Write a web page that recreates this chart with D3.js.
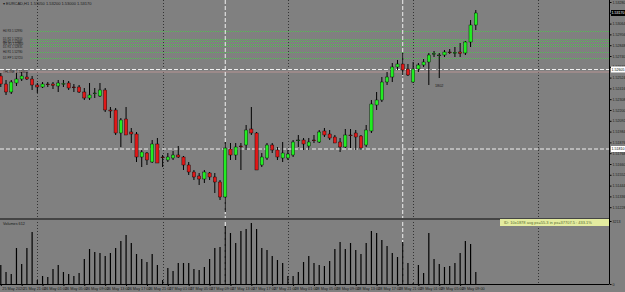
<!DOCTYPE html>
<html>
<head>
<meta charset="utf-8">
<script src="https://cdn.jsdelivr.net/npm/d3@7"></script>
<style>
  body { margin: 0; background: #808080; }
  svg { display: block; font-family: "Liberation Sans", Arial, sans-serif; }
</style>
</head>
<body>
<svg id="chart" width="625" height="292"></svg>
<script>
// EURCAD H1, one bar per hour, bar 0 = 25 May 2020 17:00
const opens  = [1.5254,1.5246,1.5238,1.5247,1.5251,1.5253,1.5251,1.5245,1.5243,1.5246,1.5246,1.5244,1.5246,1.5247,1.5243,1.5243,1.5238,1.5232,1.52365,1.5234,
                1.5240,1.5220,1.5220,1.5197,1.5211,1.5198,1.5196,1.5173,1.5177,1.5168,1.5186,1.5173,1.5170,1.5172,1.5175,1.5173,1.5165,1.5158,1.5154,1.5151,
                1.5157,1.5153,1.5148,1.5133,1.5181,1.5175,1.5184,1.5185,1.5201,1.5197,1.5165,1.5172,1.5185,1.5180,1.5172,1.5172,1.5175,1.51895,1.5190,1.5184,
                1.5190,1.5188,1.5199,1.5196,1.5193,1.5188,1.5183,1.5195,1.5197,1.5194,1.5185,1.5199,1.5225,1.5230,1.5248,1.5253,1.5263,1.5266,1.5261,1.5248,
                1.5261,1.5265,1.5268,1.5276,1.52745,1.5275,1.5278,1.5277,1.5278,1.5277,1.5288,1.5305];
const highs  = [1.5257,1.5250,1.5250,1.5257,1.5258,1.5258,1.5254,1.5247,1.5248,1.5248,1.5248,1.5250,1.5250,1.5249,1.5246,1.5245,1.5242,1.5247,1.5242,1.5247,
                1.5242,1.5223,1.5222,1.5212,1.5223,1.5202,1.5198,1.5180,1.5178,1.5190,1.5192,1.5175,1.5177,1.5179,1.5184,1.5174,1.5168,1.5160,1.5157,1.5160,
                1.5158,1.5157,1.5150,1.5188,1.5187,1.5187,1.5187,1.5205,1.5223,1.5198,1.5177,1.5187,1.5187,1.5183,1.5188,1.5180,1.5190,1.5195,1.5192,1.5192,
                1.5195,1.5200,1.5202,1.5200,1.5195,1.5192,1.5201,1.5201,1.5200,1.5195,1.5205,1.5230,1.5238,1.5253,1.5258,1.5267,1.5270,1.5277,1.5266,1.5268,
                1.5267,1.5271,1.5277,1.5279,1.5277,1.5280,1.5281,1.5283,1.5287,1.5289,1.5310,1.5320];
const lows   = [1.5243,1.5235,1.5236,1.5244,1.5249,1.5250,1.5240,1.5237,1.5242,1.5243,1.5241,1.5238,1.5243,1.5240,1.5238,1.5237,1.5230,1.5230,1.5232,1.5233,
                1.5218,1.5212,1.5195,1.5183,1.5195,1.5187,1.5168,1.5163,1.5165,1.5167,1.5167,1.5163,1.5168,1.5170,1.5172,1.5160,1.5155,1.5150,1.5145,1.5147,
                1.5150,1.5137,1.5130,1.5118,1.5170,1.5170,1.5160,1.5180,1.5195,1.5160,1.5163,1.5170,1.5177,1.5170,1.5168,1.5170,1.5173,1.5183,1.5180,1.5180,
                1.5187,1.5187,1.5193,1.5190,1.5187,1.5178,1.5182,1.5182,1.5180,1.5180,1.5183,1.5197,1.5220,1.5228,1.5245,1.5248,1.5260,1.5255,1.5254,1.5247,
                1.5258,1.5263,1.5245,1.5273,1.5252,1.5273,1.5276,1.5273,1.5273,1.5275,1.5283,1.5300];
const closes = [1.5246,1.5238,1.5248,1.5251,1.5254,1.5251,1.5245,1.5243,1.5246,1.52455,1.52445,1.5247,1.52465,1.5242,1.52425,1.5238,1.5232,1.5235,1.5237,1.5240,
                1.5220,1.5219,1.5197,1.5210,1.5195,1.5196,1.5173,1.5178,1.5170,1.5186,1.5167,1.51725,1.5173,1.5175,1.5173,1.5165,1.5158,1.5153,1.5151,1.5158,
                1.5153,1.5148,1.5133,1.5182,1.5175,1.5183,1.51835,1.5200,1.5197,1.5160,1.5173,1.5185,1.5180,1.5173,1.5177,1.5176,1.5188,1.5190,1.5186,1.5188,
                1.51895,1.5198,1.5195,1.5192,1.5187,1.5183,1.5195,1.51945,1.5193,1.5182,1.5200,1.5226,1.5230,1.5248,1.5253,1.5263,1.5266,1.5260,1.5255,1.5261,
                1.5265,1.5268,1.5275,1.52765,1.5275,1.5278,1.52775,1.52775,1.52765,1.5288,1.5305,1.5317];
const volumes = [969,612,510,1836,1020,1836,2652,204,408,357,765,969,612,510,408,561,1275,1785,1632,1581,
                 1428,1581,1836,2193,2499,2091,1530,1275,1122,1530,969,204,816,663,1071,1071,1071,765,714,867,
                 1275,1836,1887,2958,2601,2091,2703,2805,3111,2805,1836,1734,1428,1224,1071,408,408,612,1122,1428,
                 1071,969,918,1173,1785,2142,1785,2091,1734,1530,2091,2703,2601,2244,1938,1581,1377,2142,1071,51,
                 969,561,2601,1275,1020,867,918,1071,1581,2193,2040,612];

const timeTickBars = [0,4,8,12,16,20,24,28,32,36,40,44,48,52,56,60,64,68,72,76,80,84,88];
const timeLabels = ["25 May 2020","25 May 21:00","26 May 01:00","26 May 05:00","26 May 09:00","26 May 13:00",
                    "26 May 17:00","26 May 21:00","27 May 01:00","27 May 05:00","27 May 09:00","27 May 13:00",
                    "27 May 17:00","27 May 21:00","28 May 01:00","28 May 05:00","28 May 09:00","28 May 13:00",
                    "28 May 17:00","28 May 21:00","29 May 01:00","29 May 05:00","29 May 09:00"];
const priceTicks = [1.53280,1.53172,1.53064,1.52956,1.52848,1.52740,1.52632,1.52524,1.52416,1.52308,
                    1.52200,1.52092,1.51984,1.51876,1.51768,1.51660,1.51552,1.51444,1.51336,1.51228];
const volumeTicks = [3213, 0];
const daySeparators = [7, 31, 55, 79, 103];
const markerLines = [43, 77];               // white dashed vertical lines (bar position)
const hLines = [1.52605, 1.51810];          // white dashed horizontal lines
const pinkLine = 1.52590;
const levelPrices = [1.5299, 1.5291, 1.52885, 1.5286, 1.52835, 1.5278, 1.5272];
const levelNames = ["H4 R3 1.52990","D1 R2 1.52910","H4 R2 1.52885","W1 R1 1.52860",
                    "D1 R1 1.52835","H4 R1 1.52780","D1 PP 1.52720"];

const W = 625, H = 292;
const plotRight = 609;
const mainTop = 0, mainBottom = 218;
const volTop = 221, volBottom = 284;

const svg = d3.select("#chart");
svg.append("rect").attr("width", W).attr("height", H).attr("fill", "#808080");

const x = d3.scaleLinear().domain([0, 91]).range([0.8, 475.8]);
const y = d3.scaleLinear().domain([1.5112, 1.5330]).range([mainBottom, mainTop]);
const yv = d3.scaleLinear().domain([0, 3213]).range([volBottom, volTop]);

const bars = opens.map((o, i) => ({i, o, h: highs[i], l: lows[i], c: closes[i], v: volumes[i]}));

// green pivot levels
const lv = svg.append("g");
lv.selectAll("line").data(levelPrices).join("line")
    .attr("x1", 30).attr("x2", plotRight)
    .attr("y1", d => Math.round(y(d)) + 0.5).attr("y2", d => Math.round(y(d)) + 0.5)
    .attr("stroke", "#3fd83f").attr("stroke-width", 1).attr("stroke-dasharray", "1,1")
    .attr("opacity", 0.7);
lv.selectAll("text").data(levelPrices).join("text")
    .attr("x", 3).attr("y", d => y(d) + 1)
    .attr("font-size", 2.9).attr("fill", "#1a1a1a")
    .text((d, k) => levelNames[k]);

// day separators
svg.append("g").selectAll("line").data(daySeparators).join("line")
    .attr("x1", d => Math.round(x(d)) + 0.5).attr("x2", d => Math.round(x(d)) + 0.5)
    .attr("y1", 0).attr("y2", volBottom)
    .attr("stroke", "#333").attr("stroke-width", 1).attr("stroke-dasharray", "1,2");

// horizontal lines
svg.append("line").attr("x1", 0).attr("x2", plotRight)
    .attr("y1", y(pinkLine) + 1).attr("y2", y(pinkLine) + 1)
    .attr("stroke", "#c79a9a").attr("stroke-width", 0.8);
svg.append("g").selectAll("line").data(hLines).join("line")
    .attr("x1", 0).attr("x2", plotRight)
    .attr("y1", d => y(d)).attr("y2", d => y(d))
    .attr("stroke", "#f0f0f0").attr("stroke-width", 1).attr("stroke-dasharray", "4,2");
svg.append("text").attr("x", 3).attr("y", y(hLines[0]) + 3.5)
    .attr("font-size", 3.4).attr("fill", "#1a1a1a").text("#HLINE 1.52605");

// white dashed vertical markers
svg.append("g").selectAll("line").data(markerLines).join("line")
    .attr("x1", d => x(d)).attr("x2", d => x(d))
    .attr("y1", 0).attr("y2", volBottom)
    .attr("stroke", "#f0f0f0").attr("stroke-width", 1).attr("stroke-dasharray", "4,2");

// candles
const cg = svg.append("g");
cg.selectAll("line.wick").data(bars).join("line")
    .attr("class", "wick")
    .attr("x1", d => x(d.i)).attr("x2", d => x(d.i))
    .attr("y1", d => y(d.h)).attr("y2", d => y(d.l))
    .attr("stroke", "#000").attr("stroke-width", 1);
cg.selectAll("rect").data(bars).join("rect")
    .attr("x", d => x(d.i) - 1.6).attr("width", 3.2)
    .attr("y", d => y(Math.max(d.o, d.c)))
    .attr("height", d => Math.max(0.8, Math.abs(y(d.o) - y(d.c))))
    .attr("fill", d => d.c > d.o ? "#22ee22" : d.c < d.o ? "#e01818" : "#000")
    .attr("stroke", "#000").attr("stroke-width", 0.4);

svg.append("text").attr("x", 435).attr("y", 87).attr("font-size", 3.8).attr("fill", "#1a1a1a").text("1802");

// pane separator
svg.append("rect").attr("x", 0).attr("y", mainBottom).attr("width", plotRight).attr("height", 2).attr("fill", "#444");

// volumes
svg.append("g").selectAll("line").data(bars).join("line")
    .attr("x1", d => x(d.i)).attr("x2", d => x(d.i))
    .attr("y1", volBottom).attr("y2", d => yv(d.v))
    .attr("stroke", "#000").attr("stroke-width", 1.2);
svg.append("text").attr("x", 3).attr("y", 225).attr("font-size", 3.8).attr("fill", "#1a1a1a").text("Volumes 612");

// info box
svg.append("rect").attr("x", 500).attr("y", 219).attr("width", 110).attr("height", 7).attr("fill", "#e4eca0");
svg.append("text").attr("x", 504).attr("y", 224.2).attr("font-size", 4).attr("fill", "#556b2f")
    .text("ID: 10x1878  avg px=55.3  in px=37707.5 : 433.1%");

// right axis
svg.append("line").attr("x1", plotRight + 0.5).attr("x2", plotRight + 0.5).attr("y1", 0).attr("y2", volBottom)
    .attr("stroke", "#000");
const ax = svg.append("g").attr("transform", `translate(${plotRight + 0.5},0)`)
    .call(d3.axisRight(y).tickValues(priceTicks).tickFormat(d3.format(".5f")).tickSize(2).tickSizeOuter(0));
ax.select(".domain").remove();
ax.selectAll("text").attr("font-size", 3.6).attr("fill", "#1a1a1a").attr("x", 3);
ax.selectAll("line").attr("stroke", "#000");

const vax = svg.append("g").attr("transform", `translate(${plotRight + 0.5},0)`)
    .call(d3.axisRight(yv).tickValues(volumeTicks).tickFormat(d3.format("d")).tickSize(2));
vax.select(".domain").remove();
vax.selectAll("text").attr("font-size", 3.6).attr("fill", "#1a1a1a").attr("x", 3);

// price tags on axis
function tag(p, bg, fg) {
  svg.append("rect").attr("x", plotRight + 2).attr("y", y(p) - 3).attr("width", 14).attr("height", 6).attr("fill", bg);
  svg.append("text").attr("x", plotRight + 2.6).attr("y", y(p) + 1.3).attr("font-size", 3.6).attr("fill", fg)
      .text(d3.format(".5f")(p));
}
tag(hLines[0], "#fff", "#000");
tag(hLines[1], "#fff", "#000");
tag(closes[closes.length - 1], "#000", "#fff");

// time axis
svg.append("line").attr("x1", 0).attr("x2", plotRight).attr("y1", volBottom + 0.5).attr("y2", volBottom + 0.5).attr("stroke", "#000");
const tax = svg.append("g").attr("transform", `translate(0,${volBottom})`)
    .call(d3.axisBottom(x).tickValues(timeTickBars).tickFormat((d, k) => timeLabels[k]).tickSize(2));
tax.select(".domain").remove();
tax.selectAll("text").attr("font-size", 3.8).attr("fill", "#1a1a1a")
    .attr("text-anchor", "start").attr("dx", 1).attr("y", 3.5);

// title
svg.append("text").attr("x", 3).attr("y", 5).attr("font-size", 4).attr("fill", "#1a1a1a")
    .text("\u25BE EURCAD,H1  1.53050 1.53200 1.53000 1.53170");
</script>
</body>
</html>
